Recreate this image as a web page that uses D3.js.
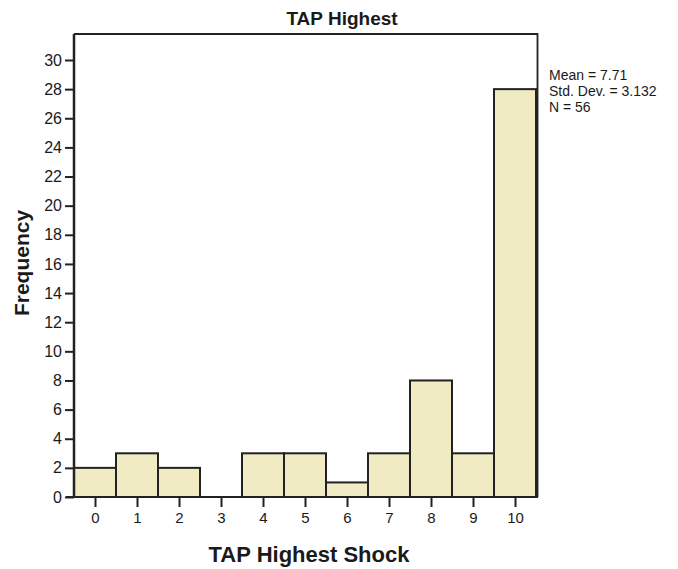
<!DOCTYPE html>
<html>
<head>
<meta charset="utf-8">
<script src="https://cdn.jsdelivr.net/npm/d3@7"></script>
<style>
  body { margin: 0; background: #fff; }
  svg { display: block; }
  text { font-family: "Liberation Sans", Arial, sans-serif; fill: #1a1a1a; }
</style>
</head>
<body>
<div id="chart"></div>
<script>
const categories = [0, 1, 2, 3, 4, 5, 6, 7, 8, 9, 10];
const frequencies = [2, 3, 2, 0, 3, 3, 1, 3, 8, 3, 28];
const yTicks = [0, 2, 4, 6, 8, 10, 12, 14, 16, 18, 20, 22, 24, 26, 28, 30];
const statsLines = ["Mean = 7.71", "Std. Dev. = 3.132", "N = 56"];
const titleText = "TAP Highest";
const xTitle = "TAP Highest Shock";
const yTitle = "Frequency";

const W = 678, H = 569;
const mLeft = 74, mRight = 536, mTop = 34, mBottom = 497;

const svg = d3.select("#chart").append("svg").attr("width", W).attr("height", H);

const x = d3.scaleLinear().domain([-0.5, 10.5]).range([mLeft, mRight]);
const y = d3.scaleLinear().domain([0, 30]).range([mBottom, mBottom - 437]);

// frame (top and right)
svg.append("path")
  .attr("d", `M${mLeft},${mTop}H${mRight + 1.5}V${mBottom}`)
  .attr("fill", "none").attr("stroke", "#222").attr("stroke-width", 1.8);

// bars
svg.append("g").selectAll("rect")
  .data(categories.map((c, i) => ({c, v: frequencies[i]})).filter(d => d.v > 0))
  .join("rect")
  .attr("x", d => x(d.c - 0.5))
  .attr("y", d => y(d.v))
  .attr("width", d => x(d.c + 0.5) - x(d.c - 0.5))
  .attr("height", d => y(0) - y(d.v))
  .attr("fill", "#f0ebc2")
  .attr("stroke", "#222")
  .attr("stroke-width", 2);

// y axis
const yAxis = svg.append("g").attr("transform", `translate(${mLeft},0)`)
  .call(d3.axisLeft(y).tickValues(yTicks).tickSize(9).tickPadding(3).tickFormat(d3.format("d")));
yAxis.select(".domain").remove();
yAxis.selectAll(".tick line").attr("stroke", "#222").attr("stroke-width", 2);
yAxis.selectAll("text").style("font-size", "16px").attr("fill", "#1a1a1a");
svg.append("line").attr("x1", mLeft).attr("x2", mLeft).attr("y1", mTop).attr("y2", mBottom + 1)
  .attr("stroke", "#222").attr("stroke-width", 2.5);

// x axis
const xAxis = svg.append("g").attr("transform", `translate(0,${mBottom})`)
  .call(d3.axisBottom(x).tickValues(categories).tickSize(10).tickPadding(5).tickFormat(d3.format("d")));
xAxis.select(".domain").remove();
xAxis.selectAll(".tick line").attr("stroke", "#222").attr("stroke-width", 2);
xAxis.selectAll("text").style("font-size", "15px").attr("fill", "#1a1a1a");
svg.append("line").attr("x1", mLeft - 8).attr("x2", mRight + 2).attr("y1", mBottom).attr("y2", mBottom)
  .attr("stroke", "#222").attr("stroke-width", 2);

// title
svg.append("text").attr("x", 342).attr("y", 25).attr("text-anchor", "middle")
  .style("font-size", "19px").style("font-weight", "bold").text(titleText);

// x title
svg.append("text").attr("x", 309).attr("y", 562).attr("text-anchor", "middle")
  .style("font-size", "22px").style("font-weight", "bold").text(xTitle);

// y title
svg.append("text").attr("transform", "translate(29,263) rotate(-90)").attr("text-anchor", "middle")
  .style("font-size", "21px").style("font-weight", "bold").text(yTitle);

// stats
svg.append("g").selectAll("text").data(statsLines).join("text")
  .attr("x", 549).attr("y", (d, i) => 80 + i * 16)
  .style("font-size", "14px").text(d => d);
</script>
</body>
</html>
